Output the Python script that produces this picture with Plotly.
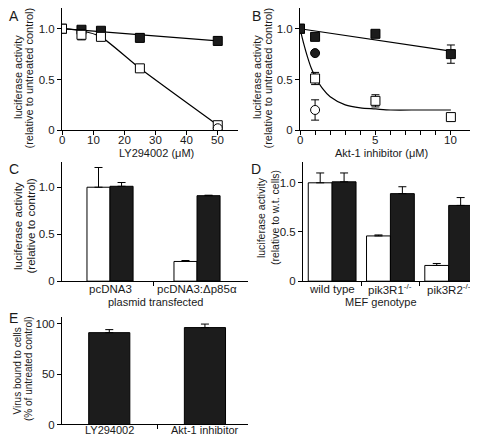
import plotly.graph_objects as go

# ---------------- data ----------------
A_conc = [0, 6.25, 12.5, 25, 50]
A_filled = [1.0, 0.99, 0.98, 0.91, 0.88]
A_filled_err = [0.02, 0.02, 0.02, 0.04, 0.04]
A_open = [1.0, 0.94, 0.92, 0.61, 0.05]
A_open_err = [0.03, 0.05, 0.02, 0.01, 0.01]
A_circle_x = [50]
A_circle_y = [0.02]
A_fit_filled_x = [0, 50]
A_fit_filled_y = [1.0, 0.88]
A_fit_open_x = [0, 6.25, 12.5, 25, 50]
A_fit_open_y = [1.0, 0.98, 0.92, 0.61, 0.05]
A_xticks = [0, 10, 20, 30, 40, 50]

B_conc = [0, 1, 5, 10]
B_filled = [1.0, 0.92, 0.95, 0.75]
B_filled_err = [0.02, 0.03, 0.02, 0.09]
B_open = [1.0, 0.51, 0.29, 0.13]
B_open_err = [0.02, 0.06, 0.06, 0.01]
B_fcircle_x = [1]
B_fcircle_y = [0.76]
B_ocircle_x = [1]
B_ocircle_y = [0.20]
B_ocircle_err = [0.10]
B_fit_filled_x = [0, 10]
B_fit_filled_y = [1.0, 0.78]
B_fit_open_x = [0, 0.25, 0.5, 0.75, 1, 1.5, 2, 3, 4, 5, 6, 8, 10]
B_fit_open_y = [1.0, 0.85, 0.72, 0.61, 0.53, 0.41, 0.33, 0.25, 0.22, 0.21, 0.20, 0.20, 0.20]
B_xticks = [0, 5, 10]

C_cats = ["pcDNA3", "pcDNA3:\u0394p85\u03b1"]
C_white = [1.0, 0.21]
C_white_err = [0.21, 0.01]
C_black = [1.01, 0.91]
C_black_err = [0.04, 0.005]

D_cats = ["wild type", "pik3R1<sup>-/-</sup>", "pik3R2<sup>-/-</sup>"]
D_white = [1.0, 0.46, 0.16]
D_white_err = [0.10, 0.01, 0.02]
D_black = [1.01, 0.89, 0.77]
D_black_err = [0.09, 0.07, 0.08]

E_cats = ["LY294002", "Akt-1 inhibitor"]
E_vals = [91, 96]
E_err = [3, 3.5]

# ---------------- styling ----------------
W, H = 478, 436
FONT = "Liberation Sans, Arial, sans-serif"
TXT = "#1a1a1a"
DARK = "#1c1c1c"
MS = 9
TICKFS = 11.5


def px_x(p):
    return p / W


def px_y(p):
    return 1 - p / H


fig = go.Figure()


def errs(arr, up_only=False):
    d = dict(type="data", array=arr, color="black", thickness=1, width=4, visible=True)
    if up_only:
        d["symmetric"] = False
        d["arrayminus"] = [0] * len(arr)
    return d


def sq(filled):
    return dict(symbol="square", size=MS, color=DARK if filled else "white",
                line=dict(color="black", width=1))


def circ(filled):
    return dict(symbol="circle", size=MS, color=DARK if filled else "white",
                line=dict(color="black", width=1))


line_style = dict(color="black", width=1.2)

# ---- Panel A ----
fig.add_trace(go.Scatter(x=A_fit_filled_x, y=A_fit_filled_y, mode="lines", line=line_style, xaxis="x", yaxis="y"))
fig.add_trace(go.Scatter(x=A_fit_open_x, y=A_fit_open_y, mode="lines", line=dict(line_style, shape="spline", smoothing=0.6), xaxis="x", yaxis="y"))
fig.add_trace(go.Scatter(x=A_conc, y=A_filled, mode="markers", marker=sq(True), error_y=errs(A_filled_err), xaxis="x", yaxis="y"))
fig.add_trace(go.Scatter(x=A_conc, y=A_open, mode="markers", marker=sq(False), error_y=errs(A_open_err), xaxis="x", yaxis="y"))
fig.add_trace(go.Scatter(x=A_circle_x, y=A_circle_y, mode="markers", marker=circ(False), xaxis="x", yaxis="y"))

# ---- Panel B ----
fig.add_trace(go.Scatter(x=B_fit_filled_x, y=B_fit_filled_y, mode="lines", line=line_style, xaxis="x2", yaxis="y2"))
fig.add_trace(go.Scatter(x=B_fit_open_x, y=B_fit_open_y, mode="lines", line=dict(line_style, shape="spline", smoothing=0.8), xaxis="x2", yaxis="y2"))
fig.add_trace(go.Scatter(x=B_conc, y=B_open, mode="markers", marker=sq(False), error_y=errs(B_open_err), xaxis="x2", yaxis="y2"))
fig.add_trace(go.Scatter(x=B_conc, y=B_filled, mode="markers", marker=sq(True), error_y=errs(B_filled_err), xaxis="x2", yaxis="y2"))
fig.add_trace(go.Scatter(x=B_fcircle_x, y=B_fcircle_y, mode="markers", marker=circ(True), xaxis="x2", yaxis="y2"))
fig.add_trace(go.Scatter(x=B_ocircle_x, y=B_ocircle_y, mode="markers", marker=circ(False), error_y=errs(B_ocircle_err), xaxis="x2", yaxis="y2"))

# ---- Panel C ----
C_x = list(range(len(C_cats)))
wC = 0.265
fig.add_trace(go.Bar(x=C_x, y=C_white, width=wC, offset=-wC, marker=dict(color="white", line=dict(color="black", width=1)),
                     error_y=errs(C_white_err, True), xaxis="x3", yaxis="y3"))
fig.add_trace(go.Bar(x=C_x, y=C_black, width=wC, offset=0, marker=dict(color=DARK, line=dict(color="black", width=1)),
                     error_y=errs(C_black_err, True), xaxis="x3", yaxis="y3"))

# ---- Panel D ----
D_x = list(range(len(D_cats)))
wD = 0.41
fig.add_trace(go.Bar(x=D_x, y=D_white, width=wD, offset=-wD, marker=dict(color="white", line=dict(color="black", width=1)),
                     error_y=errs(D_white_err, True), xaxis="x4", yaxis="y4"))
fig.add_trace(go.Bar(x=D_x, y=D_black, width=wD, offset=0, marker=dict(color=DARK, line=dict(color="black", width=1)),
                     error_y=errs(D_black_err, True), xaxis="x4", yaxis="y4"))

# ---- Panel E ----
E_x = list(range(len(E_cats)))
wE = 0.43
fig.add_trace(go.Bar(x=E_x, y=E_vals, width=wE, offset=-wE / 2, marker=dict(color=DARK, line=dict(color="black", width=1)),
                     error_y=errs(E_err, True), xaxis="x5", yaxis="y5"))

# ---------------- axes ----------------
base = dict(showgrid=False, zeroline=False, showline=True, linecolor="black", linewidth=1,
            ticks="outside", ticklen=4, tickwidth=1, tickcolor="black",
            tickfont=dict(family=FONT, size=TICKFS, color=TXT), fixedrange=True)

yA = dict(base, range=[0, 1.204], tickvals=[0, 0.5, 1.0], ticktext=["0", "0.5", "1.0"],
          domain=[px_y(124), px_y(0)])

fig.update_layout(
    xaxis=dict(base, domain=[px_x(54), px_x(230)], range=[0, 56.5], tickvals=A_xticks, showticklabels=False, anchor="y"),
    yaxis=dict(yA, anchor="x"),
    xaxis2=dict(base, domain=[px_x(292), px_x(464)], range=[0, 11.4], tickvals=B_xticks, showticklabels=False, anchor="y2",
                minor=dict(tickvals=[1, 2, 3, 4, 6, 7, 8, 9], ticks="outside", ticklen=4, tickcolor="black")),
    yaxis2=dict(yA, anchor="x2"),
    xaxis3=dict(base, domain=[px_x(54), px_x(240)], range=[-0.552, 1.586], tickvals=C_x, ticks="", showticklabels=False,
                anchor="y3", minor=dict(tickvals=[0.5], ticks="outside", ticklen=4, tickcolor="black")),
    yaxis3=dict(base, domain=[px_y(277), px_y(156)], range=[0, 1.27], tickvals=[0, 0.5, 1.0],
                ticktext=["0", "0.5", "1.0"], anchor="x3"),
    xaxis4=dict(base, domain=[px_x(295), 1.0], range=[-0.5, 2.64], tickvals=D_x, ticks="", showticklabels=False,
                anchor="y4", minor=dict(tickvals=[0.5, 1.5], ticks="outside", ticklen=4, tickcolor="black")),
    yaxis4=dict(base, domain=[px_y(277), px_y(156.5)], range=[0, 1.208], tickvals=[0, 0.5, 1.0],
                ticktext=["0", "0.5", "1.0"], anchor="x4"),
    xaxis5=dict(base, domain=[px_x(54), px_x(240)], range=[-0.494, 1.45], tickvals=E_x, ticks="", showticklabels=False,
                anchor="y5", minor=dict(tickvals=[0.5], ticks="outside", ticklen=4, tickcolor="black")),
    yaxis5=dict(base, domain=[px_y(422.3), px_y(313)], range=[0, 106.8], tickvals=[0, 50, 100], anchor="x5"),
)

# ---------------- annotations ----------------
ann = []


def text(t, x, y, size=11, angle=0):
    ann.append(dict(text=t, x=px_x(x), y=px_y(y), xref="paper", yref="paper", showarrow=False,
                    xanchor="center", yanchor="middle", textangle=angle,
                    font=dict(family=FONT, size=size, color=TXT)))


def xlabels(vals, labels, xref, ypx, size=TICKFS):
    for v, t in zip(vals, labels):
        ann.append(dict(text=t, x=v, y=px_y(ypx), xref=xref, yref="paper", showarrow=False,
                        xanchor="center", yanchor="middle",
                        font=dict(family=FONT, size=size, color=TXT)))


# x tick labels (placed on the axes' own scales)
xlabels(A_xticks, [str(v) for v in A_xticks], "x", 134)
xlabels(B_xticks, [str(v) for v in B_xticks], "x2", 134)
xlabels(C_x, C_cats, "x3", 285)
xlabels(D_x, D_cats, "x4", 285)
xlabels(E_x, E_cats, "x5", 428, 11)

# panel letters
text("A", 6, 8, 14)
text("B", 248, 8, 14)
text("C", 6, 163, 14)
text("D", 248, 163, 14)
text("E", 5, 314, 14)

# y titles
text("luciferase activity", 10, 70, 11, -90)
text("(relative to untreated control)", 21.5, 71, 11, -90)
text("luciferase activity", 249, 70, 11, -90)
text("(relative to untreated control)", 260.5, 71, 11, -90)
text("luciferase activity", 10, 221, 11.5, -90)
text("(relative to control)", 22.5, 221, 11.5, -90)
text("luciferase activity", 253, 213, 10.5, -90)
text("(relative to w.t. cells)", 267, 213, 10.5, -90)
text("Virus bound to cells", 9.5, 368, 10, -90)
text("(% of untreated control)", 21, 366, 10, -90)

# x titles
text("LY294002 (\u03bcM)", 148, 147)
text("Akt-1 inhibitor (\u03bcM)", 373, 147)
text("plasmid transfected", 147, 298)
text("MEF genotype", 373, 298)

fig.update_layout(
    annotations=ann,
    width=W, height=H, margin=dict(l=0, r=0, t=0, b=0),
    paper_bgcolor="white", plot_bgcolor="white",
    showlegend=False, barmode="overlay",
    font=dict(family=FONT, size=11, color=TXT),
)

fig.write_html("out.html")
